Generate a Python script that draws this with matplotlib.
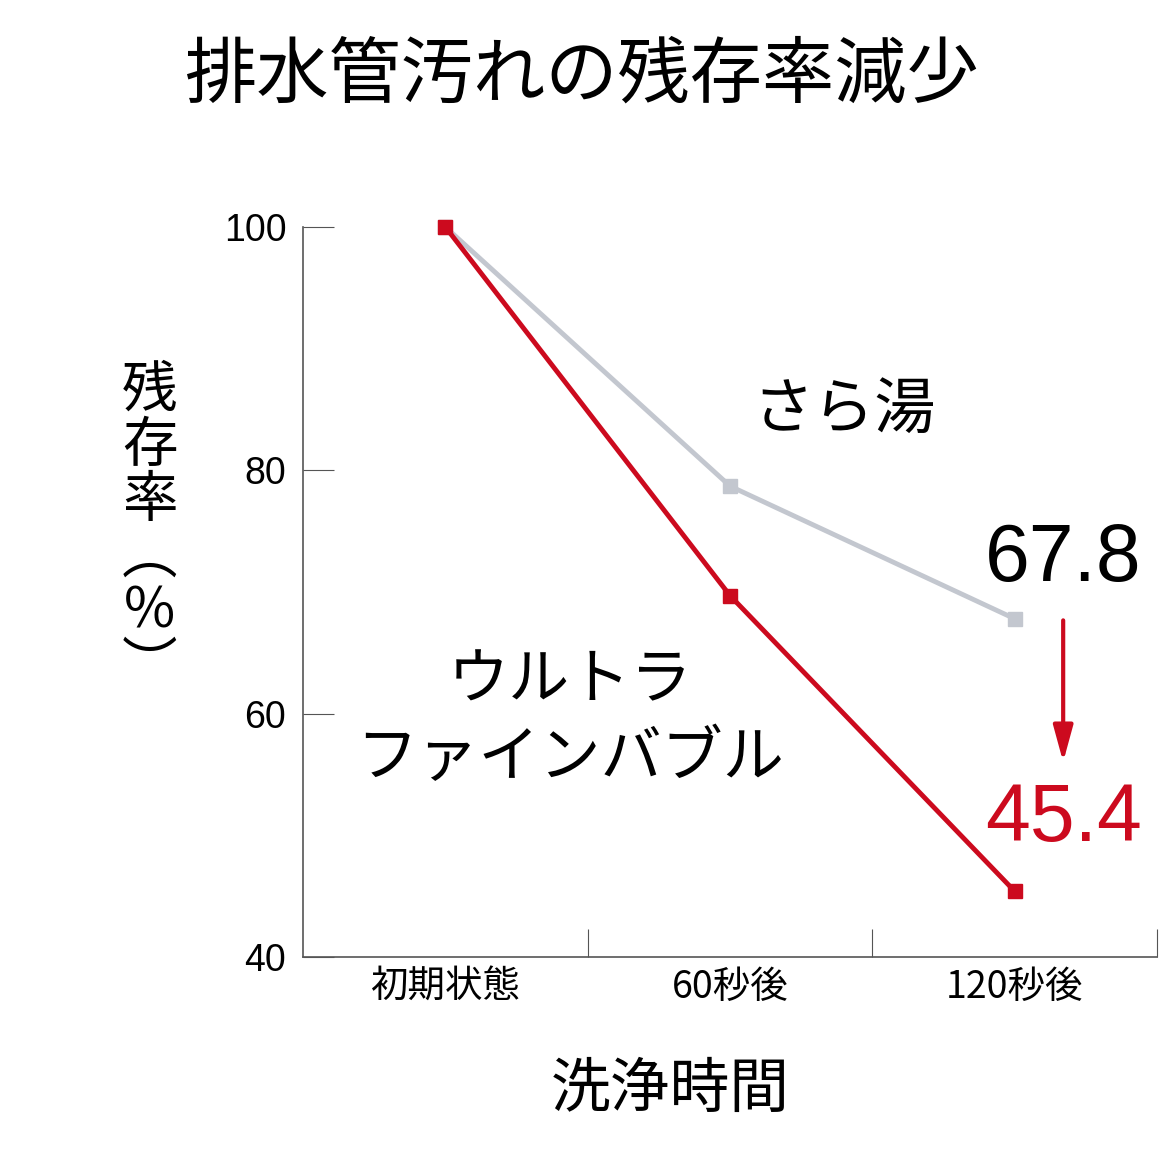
import matplotlib
matplotlib.use("Agg")
import matplotlib.pyplot as plt

plt.rcParams['font.family'] = ['Noto Sans CJK JP', 'DejaVu Sans']

categories = ["初期状態", "60秒後", "120秒後"]
sarayu = [100, 78.7, 67.8]
ufb = [100, 69.7, 45.4]
yticks = [40, 60, 80, 100]

GRAY = "#c3c7cf"
RED = "#cc0a1e"

fig = plt.figure(figsize=(11.7, 11.7), dpi=100)
ax = fig.add_axes([0.259, 0.182, 0.730, 0.624])
x = list(range(len(categories)))
ax.plot(x, sarayu, color=GRAY, lw=3.5, marker='s', ms=10, clip_on=False, zorder=3)
ax.plot(x, ufb, color=RED, lw=3.5, marker='s', ms=10, clip_on=False, zorder=4)

ax.set_xlim(-0.5, 2.5)
ax.set_ylim(40, 100)
for s in ['top', 'right']:
    ax.spines[s].set_visible(False)
for s in ['left', 'bottom']:
    ax.spines[s].set_color('#555555')
    ax.spines[s].set_linewidth(1.2)
ax.set_yticks(yticks)
ax.set_yticklabels([str(v) for v in yticks], fontsize=27, family='Liberation Sans')
ax.set_xticks([0.5, 1.5, 2.5])
ax.set_xticklabels([])
ax.set_xticks(x, minor=True)
ax.set_xticklabels(categories, minor=True, fontsize=27)
ax.tick_params(axis='x', which='minor', length=0, pad=8)
ax.tick_params(axis='x', which='major', direction='in', length=20, color='#555555')
ax.tick_params(axis='y', direction='in', length=22, color='#555555', pad=12)

fig.text(0.497, 0.935, "排水管汚れの残存率減少", ha='center', va='center', fontsize=52)
fig.text(0.573, 0.068, "洗浄時間", ha='center', va='center', fontsize=43)
fig.text(0.128, 0.548, "残\n存\n率\n︵\n%\n︶", ha='center', va='center', fontsize=40, linespacing=0.95)

ax.text(1.40, 84.9, "さら湯", ha='center', va='center', fontsize=44)
ax.text(0.437, 59.5, "ウルトラ\nファインバブル", ha='center', va='center', fontsize=44, linespacing=1.3)
ax.text(2.17, 72.6, "67.8", ha='center', va='center', fontsize=58, family='Liberation Sans')
ax.text(2.17, 51.3, "45.4", ha='center', va='center', fontsize=58, color=RED, family='Liberation Sans')
ax.annotate("", xy=(2.17, 55.8), xytext=(2.17, 67.9),
            arrowprops=dict(arrowstyle='-|>,head_length=2.2,head_width=0.6', color=RED, lw=3),
            annotation_clip=False)

fig.savefig("out.png", dpi=100)
